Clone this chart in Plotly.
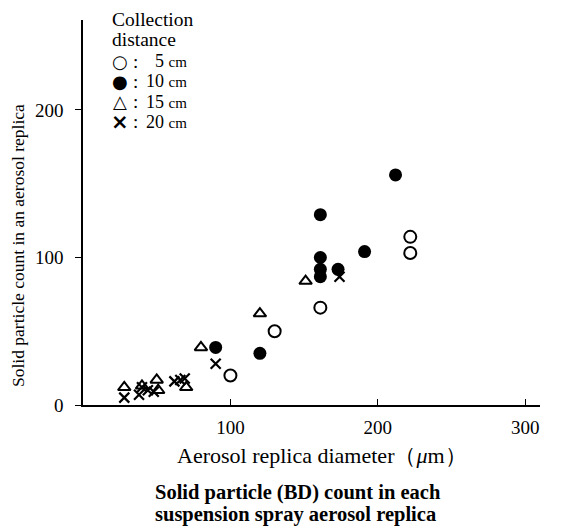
import plotly.graph_objects as go

# 5 cm (open circles)
x5 = [100, 130, 161, 222, 222]
y5 = [20, 50, 66, 103, 114]
# 10 cm (filled circles)
x10 = [90, 120, 161, 161, 161, 161, 173, 191, 212]
y10 = [39, 35, 87, 92, 100, 129, 92, 104, 156]
# 15 cm (triangles)
x15 = [28, 40, 50, 51, 70, 80, 120, 151]
y15 = [12, 13, 17, 10, 12, 39, 62, 84]
# 20 cm (crosses)
x20 = [28, 38, 40, 44, 48, 62, 66, 69, 90, 174]
y20 = [5, 7, 12, 10, 9, 16, 17, 18, 28, 87]

series_names = ["5 cm", "10 cm", "15 cm", "20 cm"]
legend_glyphs = ["○", "●", "△", "×"]
xticks = [100, 200, 300]
yticks = [0, 100, 200]

FONT = "Liberation Serif"
SYM = "DejaVu Sans"

# the page body adds an 8px offset; figure is sized to fit the window
OFF = 8
W, H = 569 - OFF, 527 - OFF
L, T = 83 - OFF, 20 - OFF
R, B = 29, 122
PW, PH = W - L - R, H - T - B


def px(xs):
    return (xs - OFF - L) / PW


def py(ys):
    return (H - B - (ys - OFF)) / PH


fig = go.Figure()
fig.add_trace(go.Scatter(x=x5, y=y5, mode="markers", name=series_names[0],
                         marker=dict(symbol="circle-open", size=12, color="black", line=dict(width=2))))
fig.add_trace(go.Scatter(x=x10, y=y10, mode="markers", name=series_names[1],
                         marker=dict(symbol="circle", size=13, color="black")))
fig.add_trace(go.Scatter(x=x15, y=y15, mode="markers", name=series_names[2],
                         marker=dict(symbol="triangle-up-open", size=11, color="black", line=dict(width=2))))
fig.add_trace(go.Scatter(x=x20, y=y20, mode="markers", name=series_names[3],
                         marker=dict(symbol="x-thin-open", size=10, color="black", line=dict(width=2.2))))

ann = [
    dict(text="Aerosol replica diameter（<i>μ</i>m）", x=px(322), y=py(455),
         xanchor="center", yanchor="middle", font=dict(family=FONT, size=22)),
    dict(text="Solid particle count in an aerosol replica", x=px(18), y=py(246),
         xanchor="center", yanchor="middle", textangle=-90, font=dict(family=FONT, size=17.5)),
    dict(text="<b>Solid particle (BD) count in each</b>", x=px(153), y=py(492),
         xanchor="left", yanchor="middle", font=dict(family=FONT, size=20.5)),
    dict(text="<b>suspension spray aerosol replica</b>", x=px(153), y=py(515),
         xanchor="left", yanchor="middle", font=dict(family=FONT, size=20.5)),
    dict(text="Collection", x=px(110), y=py(19), xanchor="left", yanchor="middle",
         font=dict(family=FONT, size=19.5)),
    dict(text="distance", x=px(110), y=py(39), xanchor="left", yanchor="middle",
         font=dict(family=FONT, size=19.5)),
]
row_y = [61, 81, 102, 122]
glyph_sizes = [18, 18, 18, 21]
for g, s, name, yy in zip(legend_glyphs, glyph_sizes, series_names, row_y):
    ann.append(dict(text="<b>%s</b>" % g, x=px(120), y=py(yy), xanchor="center", yanchor="middle",
                    font=dict(family=SYM, size=s)))
    ann.append(dict(text=":", x=px(135), y=py(yy), xanchor="center", yanchor="middle",
                    font=dict(family=FONT, size=19)))
    num, unit = name.split(" ")
    ann.append(dict(text='%s <span style="font-size:15px">%s</span>' % (num, unit),
                    x=px(189), y=py(yy), xanchor="right", yanchor="middle",
                    font=dict(family=FONT, size=18)))
for a in ann:
    a.update(xref="paper", yref="paper", showarrow=False)

fig.update_layout(
    width=W, height=H,
    margin=dict(l=L, r=R, t=T, b=B),
    paper_bgcolor="white", plot_bgcolor="white",
    font=dict(family=FONT, size=19, color="black"),
    showlegend=False,
    xaxis=dict(range=[0, 310], tickvals=xticks, ticks="inside", ticklen=6, tickcolor="black",
               showline=True, linecolor="black", linewidth=1.5, showgrid=False, zeroline=False,
               ticklabelstandoff=4, tickfont=dict(family=FONT, size=19)),
    yaxis=dict(range=[0, 261], tickvals=yticks, ticks="outside", ticklen=6, tickcolor="black",
               showline=True, linecolor="black", linewidth=1.5, showgrid=False, zeroline=False,
               ticklabelstandoff=8, tickfont=dict(family=FONT, size=19)),
    annotations=ann,
)

fig.write_html("out.html")
